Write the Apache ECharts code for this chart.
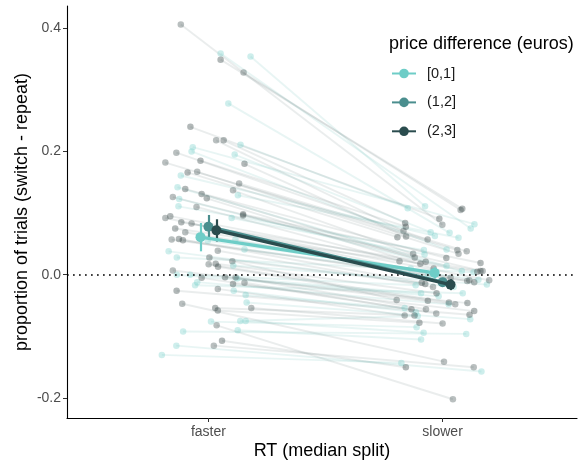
<!DOCTYPE html>
<html>
<head>
<meta charset="utf-8">
<script src="https://cdn.jsdelivr.net/npm/echarts@6/dist/echarts.min.js"></script>
<style>html,body{margin:0;padding:0;background:#fff}#c{width:579px;height:464px}</style>
</head>
<body>
<div id="c"></div>
<script>
const categories = ['faster', 'slower'];
const groupNames = ['[0,1]', '(1,2]', '(2,3]'];
const meanFast = [0.061, 0.078, 0.072];
const meanSlow = [0.003, -0.012, -0.016];
const errFast = [0.023, 0.019, 0.018];
const errSlow = [0.009, 0.007, 0.009];
const dodge = [-0.034, 0, 0.034];
const yTicks = [-0.2, 0, 0.2, 0.4];

// individual participants: jitter offsets around category + values
const fastJit = [0.052,0.180,0.085,0.137,-0.067,-0.072,0.112,-0.118,-0.132,0.126,-0.125,-0.128,0.099,0.115,-0.003,0.154,-0.170,-0.135,0.106,-0.135,-0.078,0.122,-0.048,-0.057,0.108,0.159,0.163,0.136,0.159,0.011,0.125,-0.108,-0.137,-0.199,
 -0.118,0.052,0.150,-0.077,0.033,0.065,-0.137,-0.034,-0.184,0.154,-0.048,-0.089,0.131,-0.099,0.105,-0.029,-0.152,-0.007,-0.051,0.148,0.148,-0.163,-0.184,-0.116,-0.072,-0.142,-0.099,-0.126,-0.157,-0.109,0.040,0.004,0.102,0.031,0.001,0.041,-0.152,0.071,0.116,-0.029,0.154,0.105,0.040,-0.136,-0.112,0.029,0.183,0.040,0.035,0.058,0.023];
const fastY = [0.359,0.354,0.278,0.211,0.207,0.200,0.195,0.161,0.142,0.129,0.123,0.111,0.092,0.057,0.055,0.041,0.038,0.028,0.015,0.000,0.000,-0.006,-0.012,-0.017,-0.026,-0.033,-0.045,-0.075,-0.075,-0.076,-0.090,-0.092,-0.115,-0.130,
 0.406,0.349,0.328,0.240,0.218,0.218,0.198,0.185,0.182,0.180,0.167,0.166,0.148,0.139,0.137,0.131,0.126,0.124,0.110,0.098,0.096,0.095,0.092,0.085,0.083,0.075,0.069,0.058,0.057,0.056,0.039,0.028,0.022,0.018,0.017,0.013,0.007,-0.004,-0.004,-0.005,-0.013,-0.015,-0.023,-0.026,-0.047,-0.054,-0.054,-0.058,-0.082,-0.107,-0.115];
const slowJit = [0.120,-0.075,0.030,-0.149,0.136,0.017,-0.051,-0.033,0.017,0.068,0.082,-0.080,-0.077,-0.060,-0.136,0.153,0.047,0.132,0.189,-0.017,-0.115,-0.092,0.026,0.086,-0.114,-0.162,0.118,-0.106,-0.081,-0.111,-0.092,0.101,0.166,-0.176,
 -0.001,0.084,0.077,-0.014,-0.167,-0.160,-0.064,-0.157,0.063,-0.156,0.068,-0.193,0.103,0.016,-0.126,-0.072,-0.119,-0.038,-0.184,0.162,0.171,-0.095,0.034,0.162,0.199,0.148,0.114,-0.089,0.105,0.135,-0.041,-0.074,-0.196,-0.026,0.027,-0.063,0.054,0.106,-0.071,-0.133,-0.027,0.135,-0.162,0.115,0.006,-0.120,0.000,-0.099,0.044,-0.157,0.133];
const slowY = [0.075,0.111,0.068,0.108,0.082,0.041,0.069,0.063,0.014,0.060,0.006,0.040,0.033,0.000,0.010,-0.008,-0.020,0.004,-0.016,-0.035,-0.017,-0.030,-0.048,-0.030,-0.061,-0.054,-0.072,-0.067,-0.094,-0.085,-0.105,-0.096,-0.157,-0.143,
 0.081,0.107,0.105,0.091,0.071,0.084,0.057,0.078,0.040,0.062,0.034,0.061,0.038,0.027,0.034,0.021,0.028,0.010,0.022,0.019,0.006,0.018,-0.005,0.006,-0.009,0.005,-0.009,-0.013,-0.010,-0.012,-0.020,-0.015,-0.041,-0.030,-0.045,-0.042,-0.048,-0.046,-0.056,-0.056,-0.063,-0.059,-0.066,-0.065,-0.141,-0.066,-0.079,-0.078,-0.202,-0.150,-0.150];
const subjGroup = [0,0,0,0,0,0,0,0,0,0,0,0,0,0,0,0,0,0,0,0,0,0,0,0,0,0,0,0,0,0,0,0,0,0,
 1,2,1,2,1,2,1,2,1,2,1,2,1,2,1,2,1,2,1,2,1,2,1,2,1,2,1,2,1,2,1,2,1,2,1,2,1,2,1,2,1,2,1,2,1,2,1,2,1,2,1];

const meanColors = ['#6ECDC7', '#4A8E8E', '#2A4C4E'];
const ptColors = ['rgba(110,205,199,0.42)', 'rgba(62,78,78,0.45)', 'rgba(55,70,70,0.48)'];
const segColors = ['rgba(110,190,188,0.16)', 'rgba(105,125,125,0.14)', 'rgba(105,125,125,0.14)'];
const FONT = 'Liberation Sans, Arial, sans-serif';

const segData = fastY.map((fy, i) => ({
  coords: [[1 + fastJit[i], fy], [2 + slowJit[i], slowY[i]]],
  lineStyle: { color: segColors[subjGroup[i]] }
}));
const ptSeries = [0, 1, 2].map(g => {
  const d = [];
  fastY.forEach((fy, i) => {
    if (subjGroup[i] === g) {
      d.push([1 + fastJit[i], fy]);
      d.push([2 + slowJit[i], slowY[i]]);
    }
  });
  return {
    type: 'scatter', data: d, symbolSize: 6.5, z: 2, silent: true,
    itemStyle: { color: ptColors[g], borderWidth: 0 }
  };
});

const series = [
  { type: 'lines', coordinateSystem: 'cartesian2d', data: segData, z: 1, silent: true,
    lineStyle: { width: 1.9, opacity: 1 } },
  ...ptSeries,
  { type: 'line', data: [], z: 3, silent: true,
    markLine: { symbol: ['none', 'none'], silent: true, label: { show: false },
      lineStyle: { color: '#000', width: 1.7, type: [1.7, 4.3] },
      data: [{ yAxis: 0 }] } }
];
groupNames.forEach((name, g) => {
  series.push({
    type: 'lines', coordinateSystem: 'cartesian2d', z: 4, silent: true,
    lineStyle: { color: meanColors[g], width: 2.2, opacity: 1 },
    data: [
      { coords: [[1 + dodge[g], meanFast[g] - errFast[g]], [1 + dodge[g], meanFast[g] + errFast[g]]] },
      { coords: [[2 + dodge[g], meanSlow[g] - errSlow[g]], [2 + dodge[g], meanSlow[g] + errSlow[g]]] }
    ]
  });
});
groupNames.forEach((name, g) => {
  series.push({
    name: name, type: 'line', z: 5 + g, silent: true,
    data: [[1 + dodge[g], meanFast[g]], [2 + dodge[g], meanSlow[g]]],
    symbol: 'circle', symbolSize: 10, showSymbol: true,
    lineStyle: { color: meanColors[g], width: 3.2 },
    itemStyle: { color: meanColors[g] }
  });
});

const chart = echarts.init(document.getElementById('c'), null, { renderer: 'canvas' });
chart.setOption({
  animation: false,
  backgroundColor: '#fff',
  textStyle: { fontFamily: FONT },
  grid: { left: 67, right: 2, top: 6, bottom: 46, containLabel: false, outerBoundsMode: 'none' },
  xAxis: {
    type: 'value', min: 0.396, max: 2.574,
    name: 'RT (median split)', nameLocation: 'middle', nameGap: 24, nameMoveOverlap: false,
    nameTextStyle: { fontSize: 18, color: '#000', fontFamily: FONT },
    axisLine: { show: true, onZero: false, lineStyle: { color: '#000', width: 1.1 } },
    axisTick: { show: true, length: 4, lineStyle: { color: '#333' }, customValues: [1, 2] },
    axisLabel: { color: '#4d4d4d', fontSize: 14, margin: 7, fontFamily: FONT,
      customValues: [1, 2], formatter: v => categories[Math.round(v) - 1] },
    splitLine: { show: false }
  },
  yAxis: {
    type: 'value', min: -0.2324, max: 0.436,
    name: 'proportion of trials (switch - repeat)', nameLocation: 'middle', nameGap: 36, nameMoveOverlap: false,
    nameTextStyle: { fontSize: 18, color: '#000', fontFamily: FONT },
    axisLine: { show: true, onZero: false, lineStyle: { color: '#000', width: 1.1 } },
    axisTick: { show: true, length: 4, lineStyle: { color: '#333' }, customValues: yTicks },
    axisLabel: { color: '#4d4d4d', fontSize: 14, margin: 6, fontFamily: FONT,
      customValues: yTicks, formatter: v => (Math.abs(v) < 1e-9 ? '0.0' : v.toFixed(1)) },
    splitLine: { show: false }
  },
  legend: {
    data: groupNames, orient: 'vertical', left: 391, top: 66, padding: 0,
    itemWidth: 24, itemHeight: 12, itemGap: 13.9,
    textStyle: { fontSize: 14.5, lineHeight: 12, color: '#1a1a1a', fontFamily: FONT, padding: [0, 0, 0, 6] },
    selectedMode: false
  },
  graphic: [{
    type: 'text', left: 389, top: 35,
    style: { text: 'price difference (euros)', fill: '#000', font: '18px Liberation Sans, Arial, sans-serif' }
  }],
  series: series
});
</script>
</body>
</html>
